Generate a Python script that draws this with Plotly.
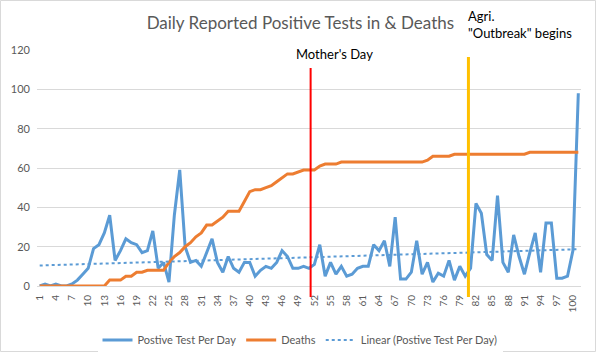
import numpy as np
import plotly.graph_objects as go

# ---- data ----
days = list(range(1, 102))
positive_tests = [0, 1, 0, 1, 0, 0, 1, 3, 6, 9,
                  19, 21, 27, 36, 13, 18, 24, 22, 21, 17,
                  18, 28, 9, 12, 2, 36, 59, 20, 12, 13,
                  10, 17, 24, 12, 7, 15, 9, 7, 12, 12,
                  5, 8, 10, 9, 12, 18, 15, 9, 9, 10,
                  9, 11, 21, 5, 12, 6, 10, 5, 6, 9,
                  10, 10, 21, 18, 23, 10, 35, 3.5, 3.5, 7,
                  23, 6, 12, 2, 6.5, 5, 13, 3, 10, 5,
                  9, 42, 37, 16, 13, 46, 12, 7, 26, 15,
                  6, 17, 27, 7, 32, 32, 4, 4, 5, 18,
                  98]
deaths = [0, 0, 0, 0, 0, 0, 0, 0, 0, 0,
          0, 0, 0, 3, 3, 3, 5, 5, 7, 7,
          8, 8, 8, 8, 12, 15, 17, 20, 22, 25,
          27, 31, 31, 33, 35, 38, 38, 38, 43, 48,
          49, 49, 50, 51, 53, 55, 57, 57, 58, 59,
          59, 59, 61, 62, 62, 62, 63, 63, 63, 63,
          63, 63, 63, 63, 63, 63, 63, 63, 63, 63,
          63, 63, 64, 66, 66, 66, 66, 67, 67, 67,
          67, 67, 67, 67, 67, 67, 67, 67, 67, 67,
          67, 68, 68, 68, 68, 68, 68, 68, 68, 68,
          68]
tick_days = list(range(1, 101, 3))
mothers_day_x = 51.3
outbreak_x = 80.6

# linear trendline of positive tests (least squares, as Excel does)
slope, intercept = np.polyfit(days, positive_tests, 1)
trend = [slope * d + intercept for d in days]

BLUE = "#5B9BD5"
ORANGE = "#ED7D31"
GRID = "#D9D9D9"
TXT = "#595959"
FONT = "Lato"

W, H = 596, 352
ML, MR, MT, MB = 37, 15, 50, 66
PW, PH = W - ML - MR, H - MT - MB
XR = [0.5, 101.5]


def xp(v):
    return (v - XR[0]) / (XR[1] - XR[0])


def yp(py):
    return (H - MB - py) / PH


fig = go.Figure()
fig.add_trace(go.Scatter(x=days, y=positive_tests, mode="lines",
                         name="Postive Test Per Day",
                         line=dict(color=BLUE, width=3)))
fig.add_trace(go.Scatter(x=days, y=deaths, mode="lines", name="Deaths",
                         line=dict(color=ORANGE, width=3)))
fig.add_trace(go.Scatter(x=days, y=trend, mode="lines",
                         name="Linear (Postive Test Per Day)",
                         line=dict(color=BLUE, width=2, dash="dot")))

shapes = [
    dict(type="line", xref="paper", yref="paper",
         x0=xp(mothers_day_x), x1=xp(mothers_day_x), y0=yp(297), y1=yp(68),
         line=dict(color="#FF0000", width=2)),
    dict(type="line", xref="paper", yref="paper",
         x0=xp(outbreak_x), x1=xp(outbreak_x), y0=yp(297), y1=yp(57),
         line=dict(color="#FFC000", width=3)),
    dict(type="rect", xref="paper", yref="paper",
         x0=(0.5 - ML) / PW, x1=(W - 0.5 - ML) / PW,
         y0=yp(H - 0.5), y1=yp(0.5),
         line=dict(color=GRID, width=1)),
]

annotations = [
    dict(text="Mother's Day", xref="paper", yref="paper",
         x=xp(mothers_day_x), xshift=24, y=yp(54), xanchor="center",
         yanchor="middle", showarrow=False,
         font=dict(family=FONT, size=13, color="black")),
    dict(text='Agri.<br>"Outbreak" begins', xref="paper", yref="paper",
         x=xp(outbreak_x), xshift=-2, y=yp(24), xanchor="left",
         yanchor="middle", align="left", showarrow=False,
         font=dict(family=FONT, size=13, color="black")),
]

fig.update_layout(
    width=W, height=H,
    margin=dict(l=ML, r=MR, t=MT, b=MB, autoexpand=False),
    paper_bgcolor="white", plot_bgcolor="white",
    font=dict(family=FONT, color=TXT, size=11),
    title=dict(text="Daily Reported Positive Tests in & Deaths",
               x=0.504, xanchor="center", y=1 - 23 / H, yanchor="middle",
               font=dict(family=FONT, size=17, color=TXT)),
    showlegend=True,
    legend=dict(orientation="h", xref="container", yref="container",
                x=300 / W, xanchor="center",
                y=1 - 340 / H, yanchor="middle",
                font=dict(family=FONT, size=11, color=TXT)),
    shapes=shapes,
    annotations=annotations,
    xaxis=dict(range=XR, tickmode="array", tickvals=tick_days,
               ticktext=[str(d) for d in tick_days], tickangle=-90,
               showgrid=False, showline=True, linecolor=GRID, linewidth=1,
               zeroline=False, ticks="", tickfont=dict(size=10, color=TXT),
               ticklabelstandoff=4, automargin=False, fixedrange=True),
    yaxis=dict(range=[0, 120], tickvals=list(range(0, 121, 20)),
               showgrid=True, gridcolor=GRID, gridwidth=1, zeroline=False,
               showline=False, ticks="", tickfont=dict(size=11, color=TXT),
               ticklabelstandoff=6, automargin=False, fixedrange=True),
)

fig.write_html("out.html")
